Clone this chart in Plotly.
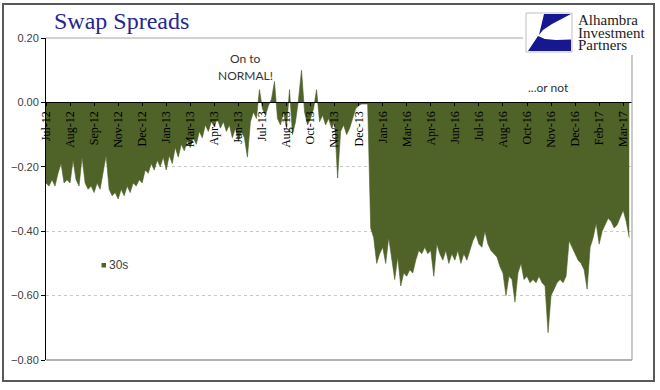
import plotly.graph_objects as go

# ---- data ----
spread_2012_13 = [
    -0.25, -0.26, -0.24, -0.26, -0.22, -0.19, -0.25, -0.24,
    -0.25, -0.18, -0.24, -0.26, -0.17, -0.25, -0.27, -0.26,
    -0.28, -0.25, -0.27, -0.22, -0.165, -0.27, -0.29, -0.28,
    -0.30, -0.27, -0.29, -0.26, -0.28, -0.25, -0.26, -0.24,
    -0.25, -0.21, -0.22, -0.19, -0.21, -0.18, -0.20, -0.17,
    -0.21, -0.165, -0.19, -0.14, -0.17, -0.13, -0.15, -0.12,
    -0.14, -0.11, -0.13, -0.09, -0.11, -0.07, -0.09, -0.06,
    -0.075, -0.05, -0.08, -0.06, -0.09, -0.07, -0.11, -0.08,
    -0.12, -0.09, -0.11, -0.17, -0.06, -0.03, -0.05, 0.04,
    -0.02, -0.04, -0.01, 0.01, 0.065, -0.05, -0.07, -0.03,
    -0.08, 0.04, -0.10, -0.06, 0.01, 0.10, -0.03, -0.07,
    -0.05, -0.02, 0.04, -0.06, -0.04, -0.07, -0.05, -0.08,
    -0.06, -0.235, -0.09, -0.07, -0.10, -0.08, -0.05, -0.02,
    -0.01, -0.005, -0.005, -0.005,
]
spread_2016_17 = [
    -0.39, -0.42, -0.50, -0.47, -0.45, -0.50, -0.42, -0.49,
    -0.55, -0.48, -0.57, -0.53, -0.54, -0.52, -0.53, -0.49,
    -0.46, -0.47, -0.45, -0.47, -0.46, -0.54, -0.44, -0.47,
    -0.49, -0.46, -0.50, -0.47, -0.49, -0.46, -0.50, -0.47,
    -0.49, -0.46, -0.43, -0.41, -0.44, -0.45, -0.40, -0.44,
    -0.46, -0.47, -0.48, -0.51, -0.53, -0.60, -0.54, -0.55,
    -0.62, -0.53, -0.50, -0.55, -0.54, -0.56, -0.55, -0.56,
    -0.54, -0.56, -0.57, -0.715, -0.60, -0.58, -0.56, -0.55,
    -0.56, -0.54, -0.43, -0.45, -0.47, -0.49, -0.50, -0.52,
    -0.58, -0.45, -0.42, -0.375, -0.44, -0.40, -0.38, -0.36,
    -0.37, -0.39, -0.38, -0.36, -0.335, -0.37, -0.42,
]
tick_labels = ["Jul-12", "Aug-12", "Sep-12", "Nov-12", "Dec-12", "Jan-13",
               "Mar-13", "Apr-13", "Jun-13", "Jul-13", "Aug-13", "Oct-13",
               "Nov-13", "Dec-13", "Jan-16", "Mar-16", "Apr-16", "Jun-16",
               "Jul-16", "Aug-16", "Oct-16", "Nov-16", "Dec-16", "Feb-17",
               "Mar-17"]
y_ticks = [0.20, 0.00, -0.20, -0.40, -0.60, -0.80]
series_name = "30s"

values = spread_2012_13 + spread_2016_17
idx = list(range(len(values)))
points_per_tick = 8
tick_vals = [i * points_per_tick for i in range(len(tick_labels))]

GREEN = "#4f6228"
W, H = 660, 390
L, R, T, B = 46, 28, 38, 30


def px(p):
    return (p - L) / (W - L - R)


def py(p):
    return (H - B - p) / (H - T - B)


fig = go.Figure()
fig.add_trace(go.Scatter(
    x=idx, y=values, mode="lines", fill="tozeroy",
    fillcolor=GREEN, line=dict(color=GREEN, width=0.6),
    name=series_name, showlegend=False, hoverinfo="skip",
))

fig.update_layout(
    width=W, height=H,
    margin=dict(l=L, r=R, t=T, b=B, pad=0),
    paper_bgcolor="white", plot_bgcolor="white",
    xaxis=dict(
        range=[0, (W - L - R) / (24.05 / points_per_tick)],
        tickmode="array", tickvals=tick_vals, ticktext=tick_labels,
        tickangle=-90, anchor="free", position=0.8,
        showline=True, linecolor="black", linewidth=1,
        ticks="outside", ticklen=3, tickcolor="black",
        tickfont=dict(family="Liberation Serif", size=12, color="black"),
        showgrid=False, zeroline=False, automargin=False,
    ),
    yaxis=dict(
        range=[-0.8, 0.2], tickmode="array", tickvals=y_ticks,
        tickformat=".2f", showline=True, linecolor="black", linewidth=1,
        ticks="outside", ticklen=4, tickcolor="black",
        tickfont=dict(family="Liberation Sans", size=11, color="#404040"),
        showgrid=True, gridcolor="#c8c8c8", griddash="dot", gridwidth=1,
        zeroline=False, automargin=False,
    ),
)

shapes = []
# outer frame
shapes.append(dict(type="rect", xref="paper", yref="paper",
                   x0=px(3), x1=px(654), y0=py(381), y1=py(4),
                   line=dict(color="#595959", width=2), layer="above"))
# plot-area border (partly hidden by the logo)
shapes.append(dict(type="line", xref="paper", yref="paper",
                   x0=0, x1=px(523), y0=1, y1=1,
                   line=dict(color="#a6a6a6", width=1.2), layer="above"))
shapes.append(dict(type="line", xref="paper", yref="paper",
                   x0=1, x1=1, y0=0, y1=py(55),
                   line=dict(color="#a6a6a6", width=1.2), layer="above"))
shapes.append(dict(type="line", xref="paper", yref="paper",
                   x0=0, x1=1, y0=0, y1=0,
                   line=dict(color="#999999", width=1.5), layer="above"))
# legend swatch
shapes.append(dict(type="rect", xref="paper", yref="paper",
                   x0=px(101.5), x1=px(106), y0=py(267.5), y1=py(263),
                   fillcolor=GREEN, line=dict(width=0), layer="above"))
# logo box
shapes.append(dict(type="rect", xref="paper", yref="paper",
                   x0=px(526), x1=px(572), y0=py(52), y1=py(13),
                   fillcolor="white", line=dict(color="#bfbfbf", width=1),
                   layer="above"))


def path(points):
    s = "M " + " L ".join(f"{px(a):.5f},{py(b):.5f}" for a, b in points) + " Z"
    return s


LOGO_BLUE = "#17178f"
shapes.append(dict(type="path", xref="paper", yref="paper",
                   path=path([(544, 14), (571, 14), (552, 24), (543, 30), (539, 35)]),
                   fillcolor=LOGO_BLUE, line=dict(width=0), layer="above"))
shapes.append(dict(type="path", xref="paper", yref="paper",
                   path=path([(538, 36), (545, 39), (556, 40), (571, 39.5),
                              (571, 51), (528, 51)]),
                   fillcolor=LOGO_BLUE, line=dict(width=0), layer="above"))
fig.update_layout(shapes=shapes)

ann = []


def text(t, x, y, size, family, color, xanchor="center"):
    ann.append(dict(text=t, x=px(x), y=py(y), xref="paper", yref="paper",
                    showarrow=False, xanchor=xanchor, yanchor="middle",
                    font=dict(size=size, family=family, color=color)))


text("Swap Spreads", 52, 21, 24, "Liberation Serif", "#26268f", "left")
text("On to", 245, 59, 12, "Lato", "#333333")
text("NORMAL!", 245, 75.5, 12, "Lato", "#333333")
text("...or not", 548, 87, 12, "Lato", "#333333")
text(series_name, 107, 265, 12, "Liberation Sans", "#404040", "left")
text("Alhambra", 576, 20.5, 15, "Liberation Serif", "#222222", "left")
text("Investment", 576, 32.5, 15, "Liberation Serif", "#222222", "left")
text("Partners", 576, 44.5, 15, "Liberation Serif", "#222222", "left")
fig.update_layout(annotations=ann)

fig.write_html("out.html", post_script="document.body.style.margin='0';",
               config={"displayModeBar": False})
